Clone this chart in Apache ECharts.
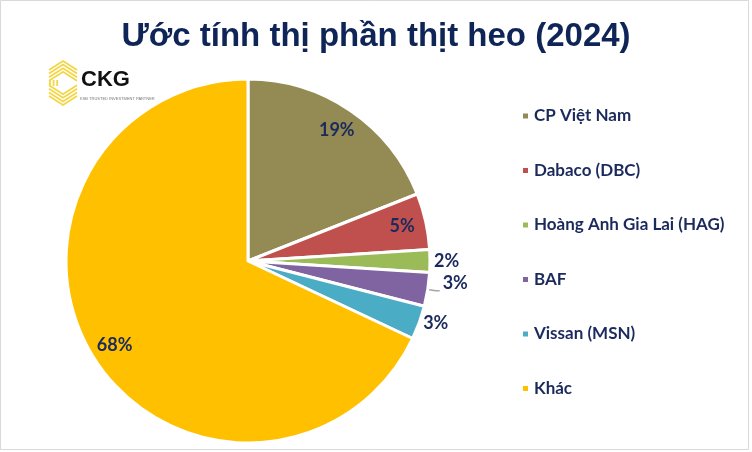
<!DOCTYPE html>
<html>
<head>
<meta charset="utf-8">
<script src="https://cdn.jsdelivr.net/npm/echarts@6/dist/echarts.min.js"></script>
<style>html,body{margin:0;padding:0;background:#fff;}#c{width:752px;height:452px;}</style>
</head>
<body>
<div id="c"></div>
<script>
const titleText = 'Ước tính thị phần thịt heo (2024)';
const categories = ['CP Việt Nam', 'Dabaco (DBC)', 'Hoàng Anh Gia Lai (HAG)', 'BAF', 'Vissan (MSN)', 'Khác'];
const values = [19, 5, 2, 3, 3, 68];
const colors = ['#948a54', '#c0504d', '#9bbb59', '#8064a2', '#4bacc6', '#ffc000'];
const outsideLabel = [false, false, true, true, true, false];
const showLeader = [false, false, false, true, false, false];

const navy = '#1b2a5c';
const labelFont = { fontFamily: 'Lato', fontWeight: 'bold', fontSize: 18, color: navy };

const chart = echarts.init(document.getElementById('c'));

const mainData = categories.map((n, i) => ({
  name: n, value: values[i],
  itemStyle: { color: colors[i] },
  label: { show: outsideLabel[i] },
  labelLine: showLeader[i] ? { show: true, length: 8, length2: 4 } : { show: false, length: 1, length2: 0 }
}));
const overlayData = categories.map((n, i) => ({
  name: n, value: values[i],
  itemStyle: { color: 'rgba(0,0,0,0)', borderWidth: 0 },
  label: { show: !outsideLabel[i] }
}));

// logo graphic: hexagon of stacked chevrons, open on the right
const logo = [];
const gold = '#f3d645';
for (let k = 0; k < 4; k++) {
  const d = k * 3.6;
  logo.push({
    type: 'polyline', silent: true,
    shape: { points: [[49, 70 + d], [63, 61 + d], [77, 70 + d]] },
    style: { stroke: gold, lineWidth: 1.8, fill: null }
  });
  logo.push({
    type: 'polyline', silent: true,
    shape: { points: [[49, 96 - d], [63, 105 - d], [77, 96 - d]] },
    style: { stroke: gold, lineWidth: 1.8, fill: null }
  });
}
for (let k = 0; k < 3; k++) {
  const x = 50 + k * 3.6;
  logo.push({
    type: 'line', silent: true,
    shape: { x1: x, y1: 80, x2: x, y2: 86 },
    style: { stroke: gold, lineWidth: 1.8 }
  });
}
logo.push({
  type: 'text', left: 81, top: 69, silent: true,
  style: { text: 'CKG', font: 'bold 22px "Liberation Sans Narrow", "Liberation Sans"', fill: '#111' }
});
logo.push({
  type: 'text', left: 80, top: 97, silent: true,
  style: { text: 'KSB TRUSTED INVESTMENT PARTNER', font: '4px "Liberation Sans"', fill: '#777' }
});
logo.push({
  type: 'rect', silent: true, z: -1,
  shape: { x: 0.5, y: 0.5, width: 748, height: 449 },
  style: { fill: null, stroke: '#d9d9d9', lineWidth: 1 }
});

chart.setOption({
  backgroundColor: '#fff',
  animation: false,
  title: {
    text: titleText, left: 'center', top: 20, padding: 0,
    textStyle: { fontFamily: 'Liberation Sans', fontWeight: 'bold', fontSize: 33, color: '#0f2557' }
  },
  legend: {
    orient: 'vertical', left: 521, top: 106, padding: 0,
    icon: 'rect', itemWidth: 7, itemHeight: 7, itemGap: 34.5,
    data: categories,
    selectedMode: false,
    textStyle: { fontFamily: 'Lato', fontWeight: 'bold', fontSize: 17, color: navy, lineHeight: 20 }
  },
  graphic: logo,
  series: [
    {
      type: 'pie', center: [248, 261], radius: [0, 182],
      startAngle: 90, clockwise: true, avoidLabelOverlap: false,
      itemStyle: { borderColor: '#fff', borderWidth: 3 },
      label: Object.assign({ position: 'outside', formatter: '{c}%', distanceToLabelLine: 3 }, labelFont),
      labelLine: { length: 8, length2: 4, lineStyle: { color: '#a6a6a6', width: 1.5 } },
      labelLayout: function (p) { return p.dataIndex === 3 ? { dy: -8 } : {}; },
      emphasis: { disabled: true },
      data: mainData
    },
    {
      type: 'pie', center: [248, 261], radius: [128, 182], silent: true,
      startAngle: 90, clockwise: true,
      label: Object.assign({ position: 'inside', formatter: '{c}%' }, labelFont),
      labelLine: { show: false },
      emphasis: { disabled: true },
      data: overlayData
    }
  ]
});
</script>
</body>
</html>
